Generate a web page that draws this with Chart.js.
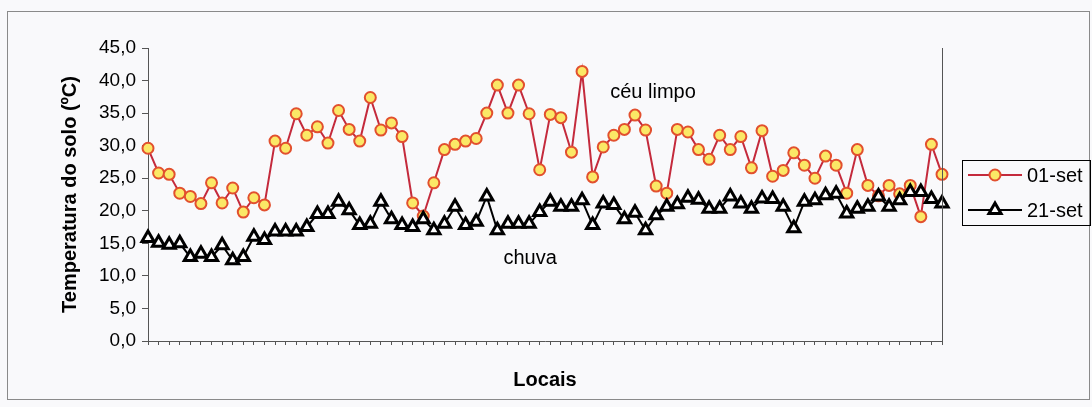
<!DOCTYPE html>
<html><head><meta charset="utf-8">
<script src="https://cdn.jsdelivr.net/npm/chart.js@4/dist/chart.umd.min.js"></script>
<style>html,body{margin:0;padding:0;background:#f9f9fb}#wrap{width:1092px;height:407px;position:relative}</style>
</head><body><div id="wrap"><canvas id="c" width="1092" height="407"></canvas></div>
<script>
const categories = ['1','2','3','4','5','6','7','8','9','10','11','12','13','14','15','16','17','18','19','20',
'21','22','23','24','25','26','27','28','29','30','31','32','33','34','35','36','37','38','39','40',
'41','42','43','44','45','46','47','48','49','50','51','52','53','54','55','56','57','58','59','60',
'61','62','63','64','65','66','67','68','69','70','71','72','73','74','75','76'];
const set01 = [29.6,25.8,25.6,22.7,22.2,21.1,24.3,21.2,23.5,19.8,22.0,20.9,30.7,29.6,34.9,31.6,32.9,30.4,35.4,32.5,
30.7,37.4,32.4,33.5,31.4,21.2,19.2,24.3,29.4,30.2,30.7,31.1,35.0,39.3,35.0,39.3,34.9,26.3,34.8,34.3,
29.0,41.4,25.2,29.8,31.6,32.5,34.7,32.4,23.8,22.7,32.5,32.1,29.4,27.9,31.6,29.4,31.4,26.6,32.3,25.3,
26.2,28.9,27.0,25.0,28.4,27.0,22.7,29.4,23.9,22.3,23.9,22.6,23.9,19.1,30.2,25.6];
const set21 = [15.8,15.1,14.8,15.0,12.9,13.4,12.9,14.7,12.4,12.9,16.0,15.5,16.8,16.8,16.8,17.5,19.5,19.5,21.4,20.1,
17.8,18.0,21.4,18.7,17.8,17.5,18.7,17.0,18.0,20.6,17.8,18.3,22.2,17.0,18.0,18.0,18.0,19.8,21.4,20.6,
20.6,21.6,17.8,21.1,20.9,18.7,19.7,17.0,19.3,20.6,21.0,22.0,21.7,20.3,20.3,22.2,21.1,20.3,21.9,21.8,
20.6,17.3,21.4,21.6,22.4,22.6,19.6,20.3,20.6,22.2,20.6,21.6,22.9,22.9,21.8,21.1];
const seriesNames = ['01-set','21-set'];
const yTickLabels = ['0,0','5,0','10,0','15,0','20,0','25,0','30,0','35,0','40,0','45,0'];
const yTitle = 'Temperatura do solo (ºC)';
const xTitle = 'Locais';
const notes = [{text:'céu limpo', at:47.7, value:38.2},{text:'chuva', at:36.1, value:12.7}];

const FONT = '"Liberation Sans", Arial, sans-serif';
Chart.defaults.font.family = FONT;
Chart.defaults.color = '#000';

const bgPlugin = {
  id:'bg',
  beforeDraw(chart){
    const ctx = chart.ctx;
    ctx.save();
    ctx.fillStyle = '#f9f9fb';
    ctx.fillRect(0,0,chart.width,chart.height);
    ctx.strokeStyle = '#8a8a8a';
    ctx.lineWidth = 1;
    ctx.strokeRect(7.5, 11.5, 1082, 388);
    ctx.restore();
  },
  afterDraw(chart){
    const ctx = chart.ctx, a = chart.chartArea;
    ctx.save();
    ctx.strokeStyle = '#555';
    ctx.lineWidth = 1;
    ctx.beginPath();
    ctx.moveTo(Math.round(a.right)+0.5, a.top);
    ctx.lineTo(Math.round(a.right)+0.5, a.bottom);
    ctx.stroke();
    const xs = chart.scales.x, ys = chart.scales.y;
    ctx.font = '20px ' + FONT;
    ctx.fillStyle = '#000';
    ctx.textAlign = 'center';
    ctx.textBaseline = 'middle';
    notes.forEach(n => ctx.fillText(n.text, xs.getPixelForValue(n.at), ys.getPixelForValue(n.value)));
    const lx = 962, ly = 160, lw = 128, lh = 65;
    ctx.strokeStyle = '#000';
    ctx.lineWidth = 1;
    ctx.strokeRect(lx+0.5, ly+0.5, lw, lh);
    chart.data.datasets.forEach((ds, i) => {
      const y = ly + 15 + i*35;
      ctx.strokeStyle = ds.borderColor;
      ctx.lineWidth = ds.borderWidth;
      ctx.beginPath();
      ctx.moveTo(lx+6, y); ctx.lineTo(lx+60, y); ctx.stroke();
      ctx.fillStyle = ds.pointBackgroundColor;
      ctx.strokeStyle = ds.pointBorderColor;
      ctx.lineWidth = ds.pointBorderWidth;
      Chart.helpers.drawPoint(ctx, {pointStyle: ds.pointStyle, radius: ds.pointRadius, borderWidth: ds.pointBorderWidth, rotation:0}, lx+33, y);
      ctx.fillStyle = '#000';
      ctx.font = '20px ' + FONT;
      ctx.textAlign = 'left';
      ctx.textBaseline = 'middle';
      ctx.fillText(ds.label, lx+65, y+1);
    });
    ctx.restore();
  }
};

new Chart(document.getElementById('c'), {
  type:'line',
  data:{
    labels: categories,
    datasets:[
      {label: seriesNames[0], data: set01, borderColor:'#c42a3c', borderWidth:2,
       pointStyle:'circle', pointRadius:5.5, pointBackgroundColor:'#fbe866', pointBorderColor:'#e2502e', pointBorderWidth:2,
       tension:0, order:2},
      {label: seriesNames[1], data: set21, borderColor:'#000', borderWidth:2,
       pointStyle:'triangle', pointRadius:7, pointBackgroundColor:'#fff', pointBorderColor:'#000', pointBorderWidth:3,
       tension:0, order:1}
    ]
  },
  options:{
    responsive:false, animation:false, devicePixelRatio:1,
    layout:{padding:{left:50, top:48, right:150, bottom:0}},
    plugins:{legend:{display:false}, tooltip:{enabled:false}},
    scales:{
      x:{
        type:'category', offset:false,
        grid:{display:true, drawOnChartArea:false, drawTicks:true, tickLength:4, color:'#555'},
        border:{display:true, color:'#555', width:1},
        ticks:{display:false},
        title:{display:true, text:xTitle, font:{size:20, weight:'bold'}, padding:{top:4, bottom:15}},
        afterFit(s){ s.height = 66; }
      },
      y:{
        min:0, max:45,
        grid:{display:true, drawOnChartArea:false, drawTicks:true, tickLength:6, color:'#555'},
        border:{display:true, color:'#555', width:1},
        ticks:{stepSize:5, padding:6, font:{size:19}, callback:(v)=> yTickLabels[Math.round(v/5)]},
        title:{display:true, text:yTitle, font:{size:20, weight:'bold'}, padding:{top:8, bottom:4}},
        afterFit(s){ s.width = 98; }
      }
    }
  },
  plugins:[bgPlugin]
});
</script></body></html>
